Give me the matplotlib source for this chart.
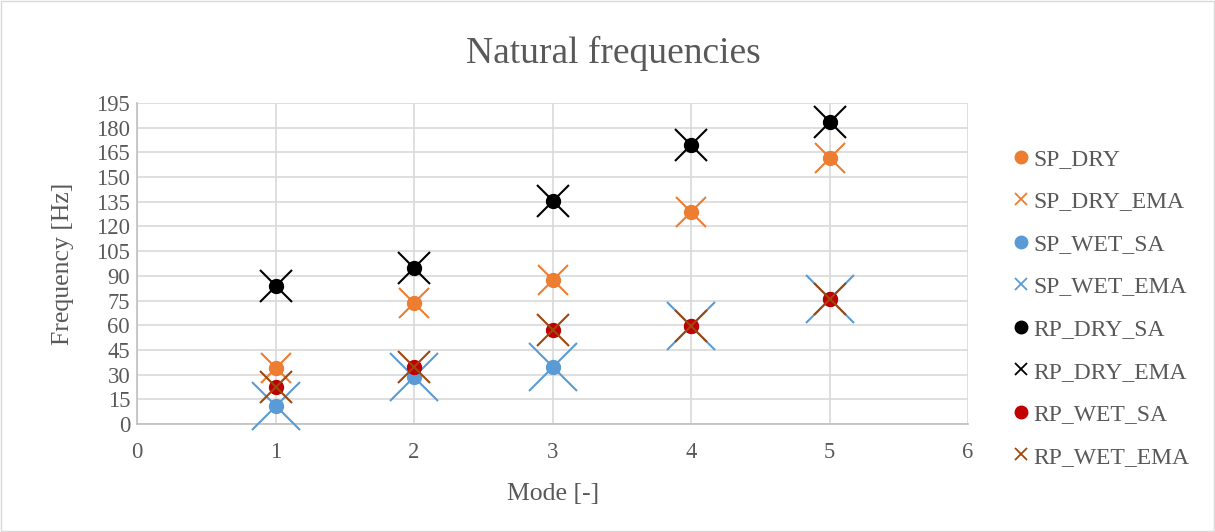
import matplotlib.pyplot as plt
from matplotlib.lines import Line2D

plt.rcParams['font.family'] = ['Liberation Serif', 'DejaVu Serif']

modes = [1, 2, 3, 4, 5]
sp_dry = [34.3, 73.8, 87.3, 128.7, 161.8]
sp_wet = [10.9, 28.7, 34.8, 59.8, 75.8]
rp_dry = [83.8, 94.6, 135.2, 169.2, 183.2]
rp_wet = [22.7, 34.8, 57.2, 59.6, 75.7]

names = ['SP_DRY', 'SP_DRY_EMA', 'SP_WET_SA', 'SP_WET_EMA',
         'RP_DRY_SA', 'RP_DRY_EMA', 'RP_WET_SA', 'RP_WET_EMA']

fig = plt.figure(figsize=(12.15, 5.32), dpi=100)
ax = fig.add_axes([0.1128, 0.203, 0.684, 0.6034])

orange = '#ED7D31'
blue = '#5B9BD5'
red = '#C00000'
brown = '#9E480E'
grey = '#595959'

# order as in excel: later series drawn on top
ax.plot(modes, sp_dry, 'o', color=orange, ms=10, clip_on=False, zorder=3)
ax.plot(modes, sp_dry, 'x', color=orange, ms=21, mew=1.5, clip_on=False, zorder=3)
ax.plot(modes, sp_wet, 'o', color=blue, ms=10, clip_on=False, zorder=3)
ax.plot(modes, sp_wet, 'x', color=blue, ms=34, mew=1.5, clip_on=False, zorder=3)
ax.plot(modes, rp_dry, 'o', color='black', ms=10, clip_on=False, zorder=3)
ax.plot(modes, rp_dry, 'x', color='black', ms=23, mew=1.5, clip_on=False, zorder=3)
ax.plot(modes, rp_wet, 'o', color=red, ms=10, clip_on=False, zorder=3)
ax.plot(modes, rp_wet, 'x', color=brown, ms=23, mew=1.5, clip_on=False, zorder=3)

ax.set_xlim(0, 6)
ax.set_ylim(0, 195)
ax.set_xticks(range(0, 7))
ax.set_yticks(range(0, 196, 15))
ax.grid(color='#d9d9d9', lw=1.2)
ax.set_axisbelow(True)
ax.tick_params(length=0, labelsize=16.3, colors=grey)
ax.tick_params(axis='x', pad=13)
ax.tick_params(axis='y', pad=5)
for s in ['top', 'right']:
    ax.spines[s].set_visible(False)
for s in ['left', 'bottom']:
    ax.spines[s].set_color('#bfbfbf')
    ax.spines[s].set_linewidth(1.2)

ax.set_xlabel('Mode [-]', fontsize=18.5, color=grey, labelpad=14)
ax.set_ylabel('Frequency [Hz]', fontsize=18.5, color=grey, labelpad=16)
fig.text(0.5045, 0.9, 'Natural frequencies', fontsize=27, color=grey,
         ha='center', va='center')

handles = [
    Line2D([], [], ls='', marker='o', color=orange, ms=9),
    Line2D([], [], ls='', marker='x', color=orange, ms=9, mew=1.3),
    Line2D([], [], ls='', marker='o', color=blue, ms=9),
    Line2D([], [], ls='', marker='x', color=blue, ms=9, mew=1.3),
    Line2D([], [], ls='', marker='o', color='black', ms=9),
    Line2D([], [], ls='', marker='x', color='black', ms=9, mew=1.3),
    Line2D([], [], ls='', marker='o', color=red, ms=9),
    Line2D([], [], ls='', marker='x', color=brown, ms=9, mew=1.3),
]
leg = fig.legend(handles, names, loc='center left', bbox_to_anchor=(0.8346, 0.421),
                 frameon=False, fontsize=17, handlelength=0.6, handletextpad=0.2,
                 labelspacing=0.89, borderpad=0, borderaxespad=0)
for t in leg.get_texts():
    t.set_color(grey)

fig.patches.append(plt.Rectangle((0.001, 0.002), 0.998, 0.996, transform=fig.transFigure,
                                 fill=False, edgecolor='#d9d9d9', lw=1))

fig.savefig('out.png', dpi=100)
